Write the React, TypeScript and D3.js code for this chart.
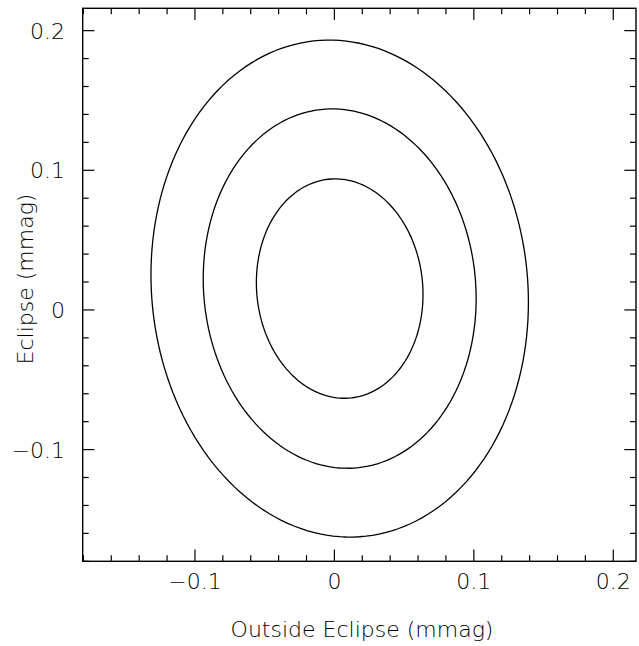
import React from "react";
import * as d3 from "d3";

// Fit result (data units, mmag)
const center: [number, number] = [0.0038, 0.0153];
const sigmas: [number, number] = [0.0394, 0.0518];
const correlation = -0.055;
// Delta chi-square levels for 68.3%, 95.4%, 99.73% (2 parameters)
const deltaChi2Levels = [2.3, 6.17, 11.8];

const xDomain: [number, number] = [-0.1805, 0.2163];
const yDomain: [number, number] = [-0.18, 0.216];
const majorTicks = [-0.1, 0, 0.1, 0.2];
const tickLabels = ["\u22120.1", "0", "0.1", "0.2"];
const minorStep = 0.02;

const xTitle = "Outside Eclipse (mmag)";
const yTitle = "Eclipse (mmag)";

const W = 639;
const H = 646;
const L = 82.7;
const R = 636;
const T = 8.3;
const B = 561.3;

const FONT = "'DejaVu Sans', sans-serif";

export default function App() {
  const x = d3.scaleLinear().domain(xDomain).range([L, R]);
  const y = d3.scaleLinear().domain(yDomain).range([B, T]);

  const minorX = d3.range(-0.18, 0.2161, minorStep).filter((v) => v >= xDomain[0] && v <= xDomain[1]);
  const minorY = d3.range(-0.18, 0.2161, minorStep).filter((v) => v >= yDomain[0] - 1e-9 && v <= yDomain[1]);
  const isMajor = (v: number) => Math.abs(v * 10 - Math.round(v * 10)) < 1e-6;

  // Cholesky factor of covariance
  const [sx, sy] = sigmas;
  const l11 = sx;
  const l21 = correlation * sy;
  const l22 = sy * Math.sqrt(1 - correlation * correlation);
  const angles = d3.range(0, 360, 2).map((d) => (d * Math.PI) / 180);

  const line = d3
    .line<[number, number]>()
    .x((d) => x(d[0]))
    .y((d) => y(d[1]))
    .curve(d3.curveLinearClosed);

  const contours = deltaChi2Levels.map((lv) => {
    const k = Math.sqrt(lv);
    const pts: [number, number][] = angles.map((a) => {
      const u = Math.cos(a) * k;
      const v = Math.sin(a) * k;
      return [center[0] + l11 * u, center[1] + l21 * u + l22 * v];
    });
    return line(pts) as string;
  });

  const MAJ = 11.7;
  const MIN = 6;

  return (
    <svg
      width={W}
      height={H}
      style={{ position: "absolute", left: 0, top: 0, background: "#fff" }}
    >
      <rect x={0} y={0} width={W} height={H} fill="#fff" />
      {contours.map((d, i) => (
        <path key={i} d={d} fill="none" stroke="#000" strokeWidth={1.3} />
      ))}
      <rect x={L} y={T} width={R - L} height={B - T} fill="none" stroke="#000" strokeWidth={1.4} />
      {minorX.map((v, i) => {
        const len = isMajor(v) ? MAJ : MIN;
        const px = x(v);
        return (
          <g key={"x" + i} stroke="#000" strokeWidth={1.2}>
            <line x1={px} x2={px} y1={B} y2={B - len} />
            <line x1={px} x2={px} y1={T} y2={T + len} />
          </g>
        );
      })}
      {minorY.map((v, i) => {
        const len = isMajor(v) ? MAJ : MIN;
        const py = y(v);
        return (
          <g key={"y" + i} stroke="#000" strokeWidth={1.2}>
            <line x1={L} x2={L + len} y1={py} y2={py} />
            <line x1={R} x2={R - len} y1={py} y2={py} />
          </g>
        );
      })}
      {majorTicks.map((v, i) => (
        <text
          key={"xl" + i}
          x={x(v)}
          y={589}
          textAnchor="middle"
          fontFamily={FONT}
          fontSize={22}
          fontWeight={200}
          fill="#000"
        >
          {tickLabels[i]}
        </text>
      ))}
      {majorTicks.map((v, i) => (
        <text
          key={"yl" + i}
          x={65}
          y={y(v) + 8}
          textAnchor="end"
          fontFamily={FONT}
          fontSize={22}
          fontWeight={200}
          fill="#000"
        >
          {tickLabels[i]}
        </text>
      ))}
      <text
        x={362}
        y={637}
        textAnchor="middle"
        fontFamily={FONT}
        fontSize={22}
        fontWeight={200}
        fill="#000"
      >
        {xTitle}
      </text>
      <text
        transform={`translate(33,279) rotate(-90)`}
        textAnchor="middle"
        fontFamily={FONT}
        fontSize={22}
        fontWeight={200}
        fill="#000"
      >
        {yTitle}
      </text>
    </svg>
  );
}
